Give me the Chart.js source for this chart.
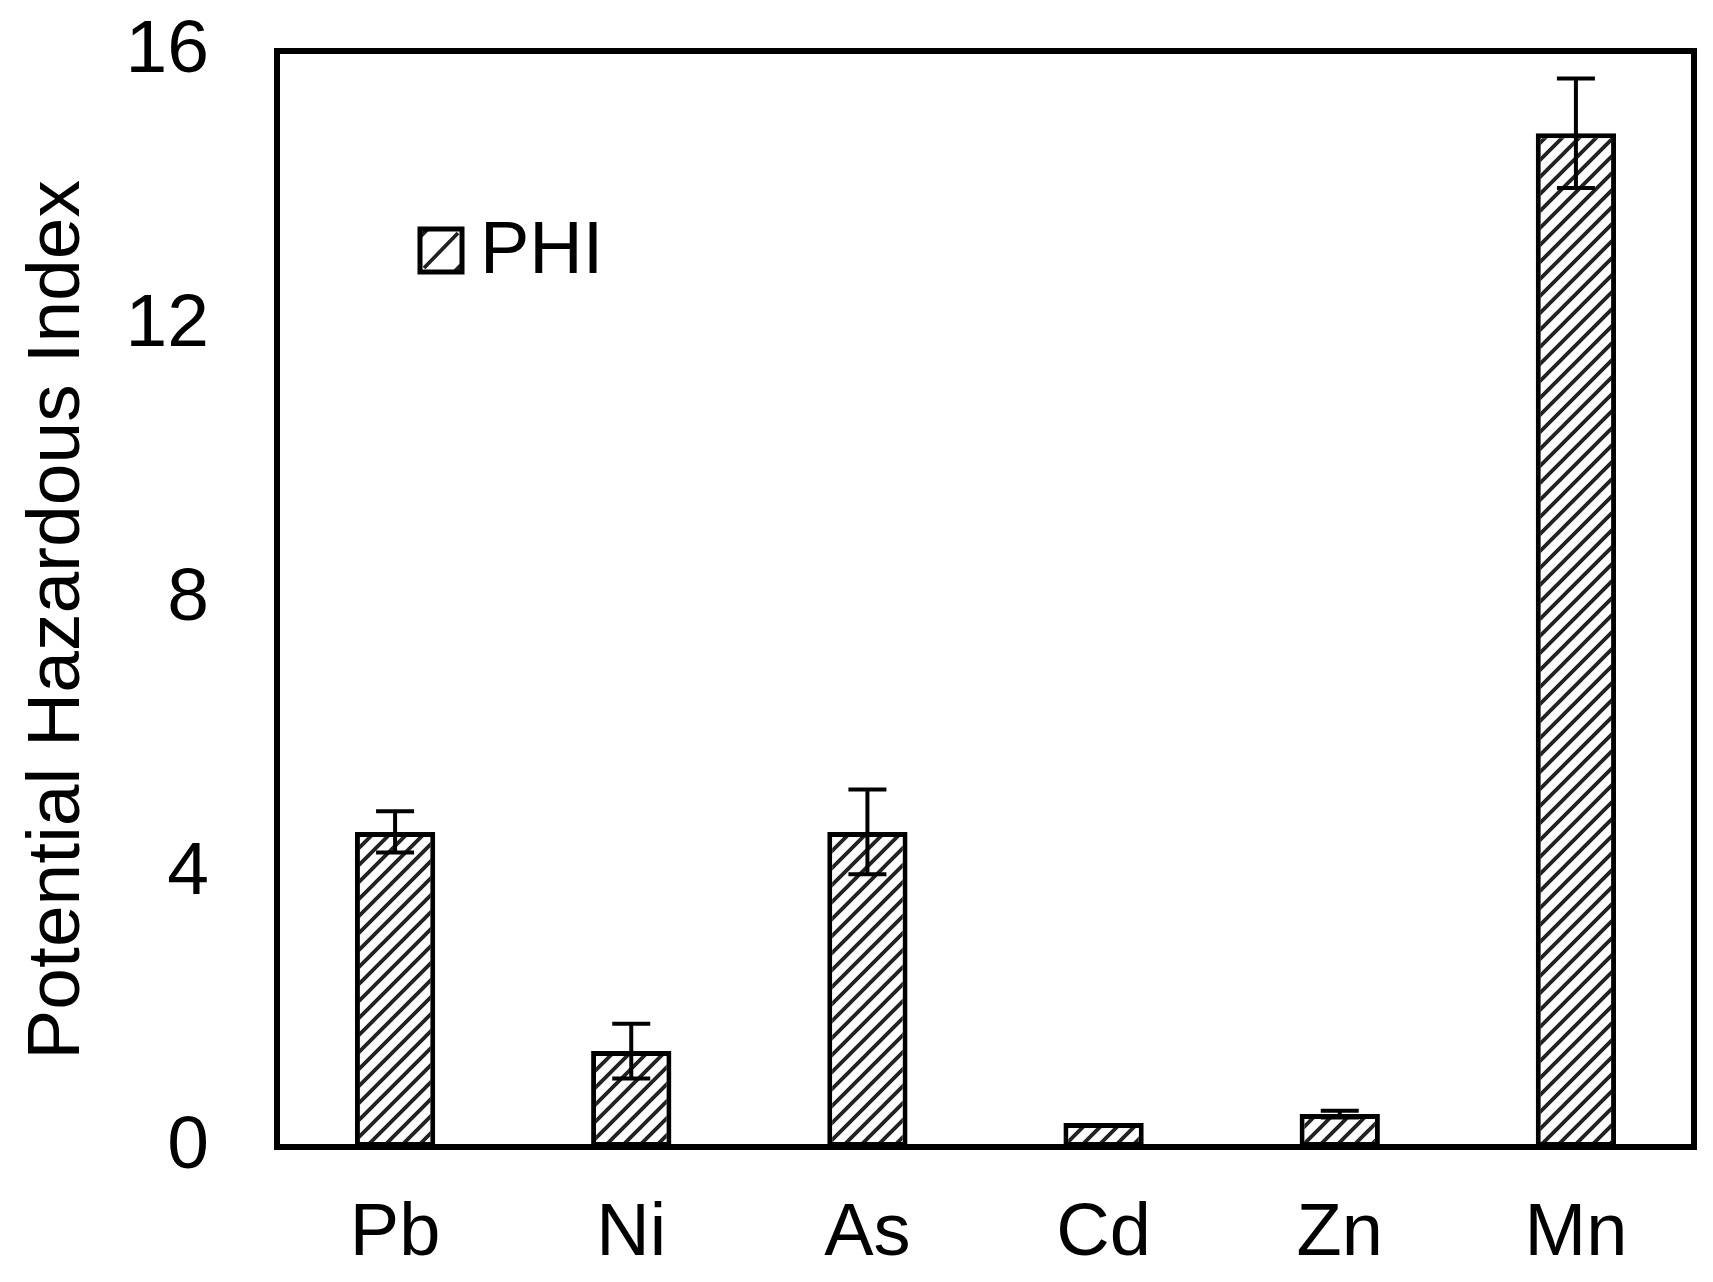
<!DOCTYPE html>
<html>
<head>
<meta charset="utf-8">
<script src="https://cdn.jsdelivr.net/npm/chart.js@4.4.1/dist/chart.umd.min.js"></script>
<style>
  html, body { margin: 0; padding: 0; background: #fff; }
  #wrap { width: 1713px; height: 1282px; }
</style>
</head>
<body>
<div id="wrap"><canvas id="c" width="1713" height="1282"></canvas></div>
<script>
const categories = ["Pb", "Ni", "As", "Cd", "Zn", "Mn"];
const phiValues = [4.6, 1.4, 4.6, 0.35, 0.48, 14.8];
const phiErrors = [0.3, 0.4, 0.62, 0.0, 0.05, 0.8];
const yTicks = [0, 4, 8, 12, 16];
const seriesLabel = "PHI";
const yTitle = "Potential Hazardous Index";

const FONT = "'Liberation Sans', Arial, sans-serif";

function makeHatch() {
  const s = 17;
  const p = document.createElement('canvas');
  p.width = s; p.height = s;
  const g = p.getContext('2d');
  g.fillStyle = '#fff';
  g.fillRect(0, 0, s, s);
  g.strokeStyle = '#222';
  g.lineWidth = 3.8;
  g.beginPath();
  g.moveTo(-2, s + 2); g.lineTo(s + 2, -2);
  g.moveTo(-2, 2); g.lineTo(2, -2);
  g.moveTo(s - 2, s + 2); g.lineTo(s + 2, s - 2);
  g.stroke();
  return document.getElementById('c').getContext('2d').createPattern(p, 'repeat');
}
const hatch = makeHatch();

const framePlugin = {
  id: 'frame',
  afterDatasetsDraw(chart) {
    const { ctx, chartArea: a, scales: { y } } = chart;
    const meta = chart.getDatasetMeta(0);
    ctx.save();
    // error bars
    ctx.strokeStyle = '#000';
    ctx.lineWidth = 4;
    meta.data.forEach((bar, i) => {
      const e = phiErrors[i];
      if (!e) return;
      const x = bar.x;
      const yt = y.getPixelForValue(phiValues[i] + e);
      const yb = y.getPixelForValue(phiValues[i] - e);
      ctx.beginPath();
      ctx.moveTo(x, yt); ctx.lineTo(x, yb);
      ctx.moveTo(x - 19, yt); ctx.lineTo(x + 19, yt);
      ctx.moveTo(x - 19, yb); ctx.lineTo(x + 19, yb);
      ctx.stroke();
    });
    // frame
    ctx.lineWidth = 6;
    ctx.strokeStyle = '#000';
    ctx.strokeRect(a.left, a.top, a.right - a.left, a.bottom - a.top);
    // legend
    const lx = a.left + 143, ly = a.top + 178, bw = 42, bh = 43;
    ctx.fillStyle = '#fff';
    ctx.fillRect(lx, ly, bw, bh);
    ctx.save();
    ctx.beginPath();
    ctx.rect(lx, ly, bw, bh);
    ctx.clip();
    ctx.strokeStyle = '#222';
    ctx.lineWidth = 3.8;
    ctx.beginPath();
    ctx.moveTo(lx + 4, ly + bh - 4); ctx.lineTo(lx + bw - 4, ly + 4);
    ctx.moveTo(lx - 4, ly + 12); ctx.lineTo(lx + 12, ly - 4);
    ctx.moveTo(lx + bw - 12, ly + bh + 4); ctx.lineTo(lx + bw + 4, ly + bh - 12);
    ctx.stroke();
    ctx.restore();
    ctx.lineWidth = 5;
    ctx.strokeStyle = '#000';
    ctx.strokeRect(lx, ly, bw, bh);
    ctx.fillStyle = '#000';
    ctx.font = '74px ' + FONT;
    ctx.textBaseline = 'alphabetic';
    ctx.textAlign = 'left';
    ctx.fillText(chart.data.datasets[0].label, lx + 60, ly + bh + 1);
    ctx.restore();
  }
};

new Chart(document.getElementById('c'), {
  type: 'bar',
  data: {
    labels: categories,
    datasets: [{
      label: seriesLabel,
      data: phiValues,
      backgroundColor: hatch,
      borderColor: '#000',
      borderWidth: 5,
      borderSkipped: false,
      categoryPercentage: 0.34,
      barPercentage: 1.0
    }]
  },
  options: {
    responsive: false,
    animation: false,
    devicePixelRatio: 1,
    layout: { padding: { top: 51, right: 19, left: 0, bottom: 0 } },
    plugins: {
      legend: { display: false },
      tooltip: { enabled: false }
    },
    scales: {
      x: {
        grid: { display: false },
        border: { display: false },
        ticks: {
          color: '#000',
          font: { family: FONT, size: 74 },
          padding: 35
        },
        afterFit(s) { s.height = 135; s.paddingLeft = 0; s.paddingRight = 0; }
      },
      y: {
        min: 0, max: 16,
        afterBuildTicks(s) { s.ticks = yTicks.map(v => ({ value: v })); },
        grid: { display: false },
        border: { display: false },
        ticks: {
          color: '#000',
          font: { family: FONT, size: 75 },
          padding: 60
        },
        title: {
          display: true,
          text: yTitle + '\u00a0\u00a0',
          color: '#000',
          font: { family: FONT, size: 75 },
          padding: { top: 13, bottom: 0 }
        },
        afterFit(s) { s.width = 277; s.paddingTop = 0; s.paddingBottom = 0; }
      }
    }
  },
  plugins: [framePlugin]
});
</script>
</body>
</html>
